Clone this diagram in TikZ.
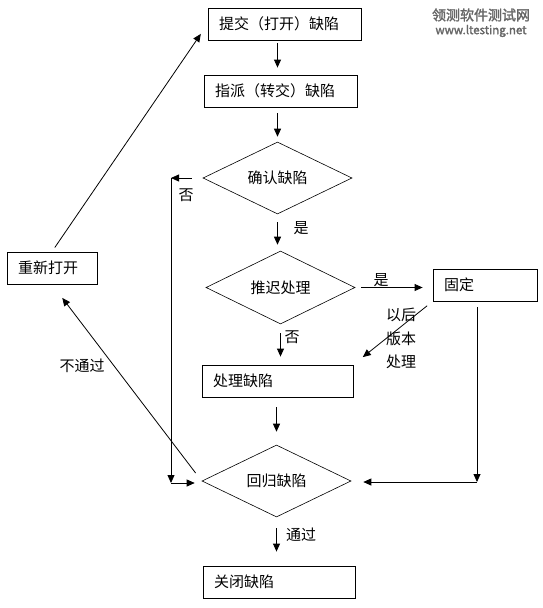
\documentclass[tikz,border=0pt]{standalone}
\usepackage{fontspec}
\setmainfont{Noto Sans CJK SC}
\newfontfamily\markfont[FakeBold=2]{Noto Sans CJK SC}
\usetikzlibrary{shapes.geometric,arrows.meta}

\begin{document}
\begin{tikzpicture}[x=1pt, y=-1pt, font=\fontsize{15}{18}\selectfont,
    box/.style={draw, line width=0.8pt, rectangle, align=left, inner xsep=11pt, inner ysep=0pt, minimum height=32pt},
    decision/.style={draw, line width=0.6pt, diamond, aspect=2, inner sep=0pt, minimum width=149pt, minimum height=72pt},
    flow/.style={line width=0.8pt, -{Triangle[length=8pt,width=7pt]}},
    lbl/.style={inner sep=0pt}]
    \useasboundingbox (0,0) rectangle (542,608);

    % Main column
    \node[box, text width=131pt] (submit) at (284.5,24) {提交（打开）缺陷};
    \node[box, text width=131pt] (assign) at (280.5,91) {指派（转交）缺陷};
    \node[decision] (confirm) at (277.5,178) {确认缺陷};
    \node[decision, minimum height=73pt] (defer) at (280.5,287.5) {推迟处理};
    \node[box, text width=129pt] (handle) at (277.5,381) {处理缺陷};
    \node[decision] (regress) at (276.5,481) {回归缺陷};
    \node[box, text width=130pt] (close) at (279,582) {关闭缺陷};

    % Side boxes
    \node[box, text width=68pt] (reopen) at (52,268) {重新打开};
    \node[box, text width=82pt] (fixed) at (485,285) {固定};

    % Watermark
    \node[lbl, text=black!60, font=\markfont\fontsize{14}{16}\selectfont] (mark) at (481,15) {领测软件测试网};
    \node[lbl, text=black!60, font=\markfont\fontsize{11.5}{13}\selectfont] (url) at (481,31) {www.ltesting.net};

    \coordinate (cornerB) at (171,483);
    \coordinate (cornerR) at (477,482);

    % Straight flow
    \draw[flow, shorten <=3pt, shorten >=7pt] (submit.south -| confirm) -- (assign.north -| confirm);
    \draw[flow, shorten <=6pt, shorten >=5pt] (assign.south -| confirm) -- (confirm.north);
    \draw[flow, shorten <=8pt, shorten >=6pt] (confirm.south) -- (defer.north -| confirm);
    \draw[flow, shorten <=9pt, shorten >=8pt] (defer.south) -- (defer.south |- handle.north);
    \draw[flow, shorten <=10pt, shorten >=13pt] (handle.south -| regress) -- (regress.north);
    \draw[flow, shorten <=11pt, shorten >=14pt] (regress.south) -- (close.north -| regress);

    % Branches
    \draw[flow, shorten <=6pt, shorten >=10pt] (defer.east) -- (defer.east -| fixed.west);
    \draw[flow, shorten <=7pt, shorten >=12pt] (fixed.south west) -- (handle.north east);
    \draw[flow, shorten <=11pt] (confirm.west) -- (confirm.west -| cornerB);
    \draw[flow] (confirm.west -| cornerB) -- (cornerB);
    \draw[flow, shorten >=7pt] (cornerB) -- (cornerB -| regress.west);
    \draw[flow, shorten <=6pt] (fixed.south -| cornerR) -- (cornerR);
    \draw[flow, shorten >=12pt] (cornerR) -- (cornerR -| regress.east);
    \draw[flow, shorten <=10pt, shorten >=17pt] (regress.west) -- (reopen.south);
    \draw[flow, shorten <=5pt, shorten >=12pt] (reopen.north) -- (submit.west);

    % Labels
    \node[lbl] (noA) at (186,195) {否};
    \node[lbl] (yesA) at (301,228) {是};
    \node[lbl] (yesB) at (381,280) {是};
    \node[lbl] (noB) at (292,337) {否};
    \node[lbl, align=center, font=\fontsize{15}{23.5}\selectfont] (later) at (401,338.5) {以后\\版本\\处理};
    \node[lbl] (fail) at (82,366) {不通过};
    \node[lbl] (pass) at (301,535) {通过};
\end{tikzpicture}
\end{document}
